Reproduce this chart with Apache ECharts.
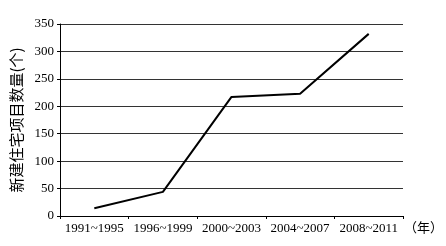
<!DOCTYPE html>
<html>
<head>
<meta charset="utf-8">
<script src="https://cdn.jsdelivr.net/npm/echarts@6/dist/echarts.min.js"></script>
<style>
  html, body { margin: 0; padding: 0; background: #fff; }
  #chart { width: 446px; height: 246px; }
</style>
</head>
<body>
<div id="chart"></div>
<script>
// periods on the x axis
const periods = ["1991~1995", "1996~1999", "2000~2003", "2004~2007", "2008~2011"]
// number of new housing projects
const projects = [14, 44, 217, 223, 332]
const yTicks = { min: 0, max: 350, interval: 50 }

const myChart = echarts.init(document.getElementById("chart"))
const serif = "Liberation Serif, Times New Roman, serif"

myChart.setOption({
  animation: false,
  grid: { left: 60, right: 39, top: 24, bottom: 30 },
  xAxis: {
    type: "category",
    data: periods,
    name: "（年）",
    nameLocation: "end",
    nameGap: 1,
    nameTextStyle: {
      color: "#000",
      fontSize: 13,
      fontFamily: "Noto Sans CJK SC",
      verticalAlign: "top",
      padding: [5, 0, 0, 0],
    },
    axisLine: { lineStyle: { color: "#000", width: 1 } },
    axisTick: { show: true, length: 3, lineStyle: { color: "#000" } },
    axisLabel: { interval: 0, hideOverlap: false, color: "#000", fontSize: 13, fontFamily: serif, margin: 6 },
  },
  yAxis: {
    type: "value",
    min: yTicks.min,
    max: yTicks.max,
    interval: yTicks.interval,
    name: "新建住宅项目数量(个)",
    nameLocation: "middle",
    nameRotate: 90,
    nameGap: 35,
    nameTextStyle: { color: "#000", fontSize: 15, fontFamily: "Noto Sans CJK SC" },
    axisLine: { show: true, lineStyle: { color: "#000", width: 1 } },
    axisTick: { show: true, length: 3, lineStyle: { color: "#000" } },
    axisLabel: { color: "#000", fontSize: 13, fontFamily: serif, margin: 6 },
    splitLine: { show: true, lineStyle: { color: "#333", width: 1 } },
  },
  series: [
    {
      type: "line",
      data: projects,
      symbol: "none",
      lineStyle: { color: "#000", width: 2 },
    },
  ],
})
</script>
</body>
</html>
